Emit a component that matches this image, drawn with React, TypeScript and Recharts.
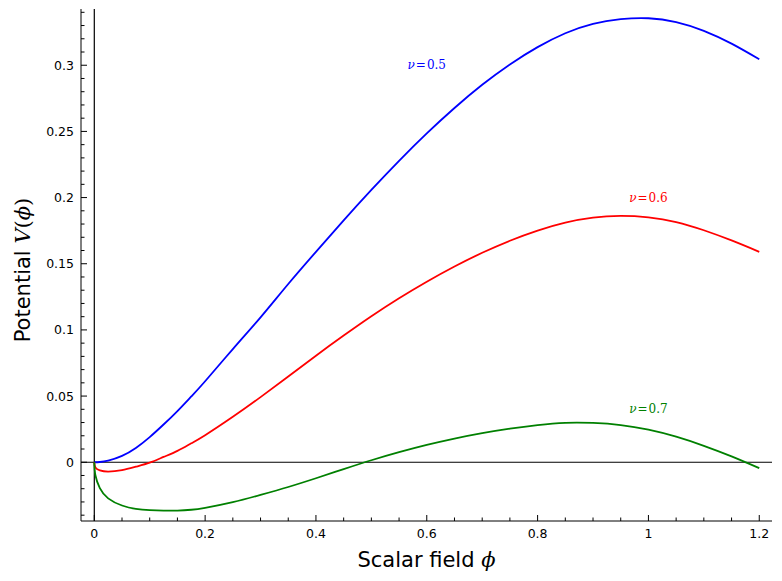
import { Line, LineChart, ReferenceDot, ReferenceLine, XAxis, YAxis } from "recharts";

// field values (x) and the three potentials
const phi = [
  0, 0.002, 0.01, 0.025, 0.05, 0.075, 0.1, 0.125, 0.15, 0.175, 0.2, 0.25, 0.3, 0.35, 0.4,
  0.45, 0.5, 0.55, 0.6, 0.65, 0.7, 0.75, 0.8, 0.85, 0.9, 0.95, 1.0, 1.05, 1.1, 1.15, 1.2,
];
const nu05 = [
  0, 0, 0.0002, 0.0012, 0.0048, 0.0108, 0.019, 0.0285, 0.0387, 0.0497, 0.0612, 0.0855, 0.1095,
  0.1347, 0.159, 0.1828, 0.2058, 0.2278, 0.2485, 0.2677, 0.2852, 0.3006, 0.3137, 0.3242,
  0.3313, 0.3348, 0.3355, 0.3326, 0.326, 0.3163, 0.3045,
];
const nu06 = [
  0, -0.004, -0.0062, -0.0071, -0.006, -0.0034, -0.0003, 0.004, 0.0086, 0.0143, 0.0204,
  0.0343, 0.0492, 0.0648, 0.0805, 0.0957, 0.1103, 0.1239, 0.1364, 0.1479, 0.1583, 0.1674,
  0.1751, 0.1811, 0.1849, 0.1861, 0.185, 0.1815, 0.1753, 0.1676, 0.159,
];
const nu07 = [
  0, -0.0098, -0.0195, -0.0273, -0.0327, -0.0352, -0.0362, -0.0366, -0.0365, -0.0359, -0.0345,
  -0.0302, -0.0247, -0.0187, -0.0121, -0.0052, 0.0015, 0.0076, 0.0131, 0.0179, 0.022, 0.0254,
  0.0281, 0.0298, 0.0297, 0.0281, 0.0246, 0.0193, 0.0124, 0.0044, -0.0045,
];

const xTicks = [
  0, 0.05, 0.1, 0.15, 0.2, 0.25, 0.3, 0.35, 0.4, 0.45, 0.5, 0.55, 0.6, 0.65, 0.7, 0.75, 0.8,
  0.85, 0.9, 0.95, 1, 1.05, 1.1, 1.15, 1.2,
];
const yTicks = [
  -0.04, -0.03, -0.02, -0.01, 0, 0.01, 0.02, 0.03, 0.04, 0.05, 0.06, 0.07, 0.08, 0.09, 0.1,
  0.11, 0.12, 0.13, 0.14, 0.15, 0.16, 0.17, 0.18, 0.19, 0.2, 0.21, 0.22, 0.23, 0.24, 0.25,
  0.26, 0.27, 0.28, 0.29, 0.3, 0.31, 0.32, 0.33, 0.34,
];

const curveLabels = [
  { x: 0.6, y: 0.3, text: "0.5", color: "#0000ff" },
  { x: 1.0, y: 0.2, text: "0.6", color: "#ff0000" },
  { x: 1.0, y: 0.04, text: "0.7", color: "#008000" },
];

const data = phi.map((p, i) => ({ phi: p, a: nu05[i], b: nu06[i], c: nu07[i] }));

const xDomain = [-0.024, 1.223];
const yDomain = [-0.0444, 0.3425];
const tickFont = { fontFamily: "DejaVu Sans", fontSize: 12.5, fill: "#000" };

const isMajor = (v: number, step: number) => Math.abs(v / step - Math.round(v / step)) < 1e-6;
const fmt = (v: number) => String(Number(v.toFixed(2)));

function BottomTick({ x, y, payload }: any) {
  const major = isMajor(payload.value, 0.2);
  return (
    <g>
      <line x1={x} x2={x} y1={y} y2={y - (major ? 6 : 3.5)} stroke="#000" />
      {major && (
        <text x={x} y={y + 16.5} textAnchor="middle" {...tickFont}>
          {fmt(payload.value)}
        </text>
      )}
    </g>
  );
}

function TopTick({ x, y, payload }: any) {
  const major = isMajor(payload.value, 0.2);
  return <line x1={x} x2={x} y1={y} y2={y + (major ? 6 : 3.5)} stroke="#000" />;
}

function LeftTick({ x, y, payload }: any) {
  const major = isMajor(payload.value, 0.05);
  return (
    <g>
      <line x1={x} x2={x + (major ? 6 : 3.5)} y1={y} y2={y} stroke="#000" />
      {major && payload.value >= 0 && (
        <text x={x - 7} y={y + 4.5} textAnchor="end" {...tickFont}>
          {fmt(payload.value)}
        </text>
      )}
    </g>
  );
}

function RightTick({ x, y, payload }: any) {
  const major = isMajor(payload.value, 0.05);
  return <line x1={x} x2={x - (major ? 6 : 3.5)} y1={y} y2={y} stroke="#000" />;
}

function XTitle({ viewBox }: any) {
  return (
    <text
      x={viewBox.x + viewBox.width / 2}
      y={viewBox.y + 45.5}
      textAnchor="middle"
      fontFamily="DejaVu Sans"
      fontSize={21}
      fill="#000"
    >
      Scalar field{" "}
      <tspan fontFamily="DejaVu Serif" fontStyle="italic">
        ϕ
      </tspan>
    </text>
  );
}

function YTitle({ viewBox }: any) {
  const cx = viewBox.x + 22;
  const cy = viewBox.y + viewBox.height / 2 + 5;
  return (
    <text
      x={cx}
      y={cy}
      transform={`rotate(-90, ${cx}, ${cy})`}
      textAnchor="middle"
      fontFamily="DejaVu Sans"
      fontSize={21}
      fill="#000"
    >
      Potential{" "}
      <tspan fontFamily="DejaVu Serif" fontStyle="italic">
        V
      </tspan>
      <tspan fontFamily="DejaVu Serif">(</tspan>
      <tspan fontFamily="DejaVu Serif" fontStyle="italic">
        ϕ
      </tspan>
      <tspan fontFamily="DejaVu Serif">)</tspan>
    </text>
  );
}

export default function App() {
  return (
    <LineChart width={774} height={565} data={data} margin={{ top: 1, right: 10, bottom: 0, left: 0 }}>
      <XAxis
        dataKey="phi"
        type="number"
        domain={xDomain}
        allowDataOverflow
        ticks={xTicks}
        interval={0}
        height={52}
        tickSize={0}
        tickMargin={0}
        tickLine={false}
        axisLine={{ stroke: "#000" }}
        tick={<BottomTick />}
        label={{ content: <XTitle /> }}
      />
      <XAxis
        xAxisId="top"
        orientation="top"
        dataKey="phi"
        type="number"
        domain={xDomain}
        allowDataOverflow
        ticks={xTicks}
        interval={0}
        height={0}
        tickSize={0}
        tickMargin={0}
        tickLine={false}
        axisLine={{ stroke: "#000" }}
        tick={<TopTick />}
      />
      <YAxis
        type="number"
        domain={yDomain}
        allowDataOverflow
        ticks={yTicks}
        interval={0}
        width={73}
        tickSize={0}
        tickMargin={0}
        tickLine={false}
        axisLine={{ stroke: "#000" }}
        tick={<LeftTick />}
        label={{ content: <YTitle /> }}
      />
      <YAxis
        yAxisId="right"
        orientation="right"
        type="number"
        domain={yDomain}
        allowDataOverflow
        ticks={yTicks}
        interval={0}
        width={0}
        tickSize={0}
        tickMargin={0}
        tickLine={false}
        axisLine={{ stroke: "#000" }}
        tick={<RightTick />}
      />
      <ReferenceLine x={0} stroke="#000" strokeWidth={1.2} />
      <ReferenceLine y={0} stroke="#000" strokeWidth={1.2} />
      <Line dataKey="a" type="natural" stroke="#0000ff" strokeWidth={1.8} dot={false} isAnimationActive={false} />
      <Line dataKey="b" type="natural" stroke="#ff0000" strokeWidth={1.8} dot={false} isAnimationActive={false} />
      <Line dataKey="c" type="natural" stroke="#008000" strokeWidth={1.8} dot={false} isAnimationActive={false} />
      {curveLabels.map((l) => (
        <ReferenceDot
          key={l.text}
          x={l.x}
          y={l.y}
          r={0}
          shape={(p: any) => (
            <text x={p.cx} y={p.cy + 4} textAnchor="middle" fill={l.color} fontFamily="DejaVu Serif" fontSize={12}>
              <tspan fontStyle="italic">ν</tspan>
              <tspan dx={1}>=</tspan>
              <tspan dx={1}>{l.text}</tspan>
            </text>
          )}
        />
      ))}
    </LineChart>
  );
}
